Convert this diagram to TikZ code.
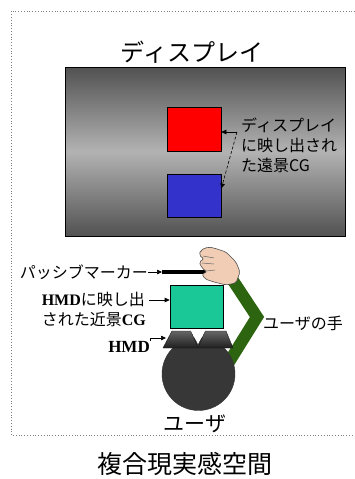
\documentclass[tikz,border=0pt]{standalone}
\usepackage{fontspec}
\setmainfont{Noto Sans CJK JP}
\newfontfamily\romanfont{Liberation Serif}
\usetikzlibrary{arrows.meta, positioning}
\definecolor{cgred}{RGB}{255, 0, 0}
\definecolor{cgblue}{RGB}{51, 51, 204}
\definecolor{cggreen}{RGB}{25, 200, 150}
\definecolor{armgreen}{RGB}{45, 100, 15}
\definecolor{skin}{RGB}{240, 205, 180}
\definecolor{headgray}{RGB}{55, 55, 55}

\begin{document}
\begin{tikzpicture}[
  x=1pt, y=-1pt,
  cgbox/.style={rectangle, draw=black, line width=0.6pt, minimum width=54pt, minimum height=44pt, inner sep=0pt},
  note/.style={font=\fontsize{16}{20}\selectfont, align=left, inner sep=0pt},
  arrow/.style={-{Triangle[length=5pt, width=4.5pt]}, line width=0.6pt}
]
\useasboundingbox (0,0) rectangle (355,479);

% Space frame
\draw[gray, dotted, line width=0.8pt] (355,11) -- (11,11) -- (11,435) -- (355,435);

% Display
\node[font=\fontsize{24}{28}\selectfont] (dtitle) at (192,52) {ディスプレイ};
\node[rectangle, draw=black, line width=0.6pt, minimum width=280pt, minimum height=169pt,
  top color=black!68, bottom color=black!68, middle color=black!30] (display) at (205,151.5) {};

% Far CG on the display
\node[cgbox, fill=cgred] (red) at (194,129) {};
\node[cgbox, fill=cgblue, minimum height=43pt] (blue) at (194,195.5) {};
\node[note, anchor=west] (farlabel) at (241,145) {ディスプレイ\\に映し出され\\た遠景CG};
\coordinate (farpoint) at (237,132);
\draw[arrow] (farpoint) -- (farpoint -| red.east);
\draw[arrow, densely dashed] (farpoint) -- ([yshift=7pt]blue.east);

% User: arm, head, HMD, near CG, hand
\draw[armgreen, line width=12pt, line join=miter] (230,276) -- (257,317) -- (229,362);
\node[circle, fill=headgray, draw=black!80, minimum size=73pt, inner sep=0pt] (head) at (198.5,374) {};
\shade[top color=black!60, bottom color=black!88, draw=black!90] (172,331) -- (191,331) -- (198,348) -- (163,348) -- cycle;
\shade[top color=black!60, bottom color=black!88, draw=black!90] (205,331) -- (226,331) -- (233,348) -- (198,348) -- cycle;
\fill[white] (191,331) -- (205,331) -- (198,344) -- cycle;
\coordinate (hmd) at (166,338);
\node[cgbox, fill=cggreen, minimum width=53pt, minimum height=43pt] (green) at (196.5,306.5) {};

% Passive marker held in the hand
\coordinate (barstart) at (162,272);
\draw[line width=4pt] (barstart) -- (206,272);
\filldraw[fill=skin, draw=black!70, line width=0.6pt, rounded corners=2pt]
  (214,248) -- (226,252) -- (236,262) -- (240,272) -- (236,283) -- (226,285) -- (214,282)
  -- (205,279) -- (202,274) -- (207,272) -- (202,268) -- (199,262) -- (204,259)
  -- (199,255) -- (201,250) -- (208,247) -- cycle;
\draw[black!60, line width=0.5pt] (203,256) -- (214,258) (202,263) -- (214,264) (206,271) -- (215,270);

% Labels on the left
\node[note, anchor=east] (marker) at (148,272) {パッシブマーカー};
\draw[arrow] (marker.east) -- (barstart);
\node[note, anchor=east] (nearlabel) at (146,309) {{\romanfont\bfseries HMD}に映し出\\された近景{\romanfont\bfseries CG}};
\coordinate (nearpoint) at (149,300);
\draw[arrow] (nearpoint) -- (nearpoint -| green.west);
\node[note, anchor=east, font=\romanfont\bfseries\fontsize{17}{20}\selectfont] (hmdlabel) at (150,347) {HMD};
\draw[arrow] (hmdlabel.north east) |- (hmd);

% Labels on the right and below
\node[note, anchor=west] (handlabel) at (263,323) {ユーザの手};
\node[font=\fontsize{21}{24}\selectfont] (user) at (195,424) {ユーザ};
\node[font=\fontsize{25}{28}\selectfont] (space) at (185,464) {複合現実感空間};
\end{tikzpicture}
\end{document}
